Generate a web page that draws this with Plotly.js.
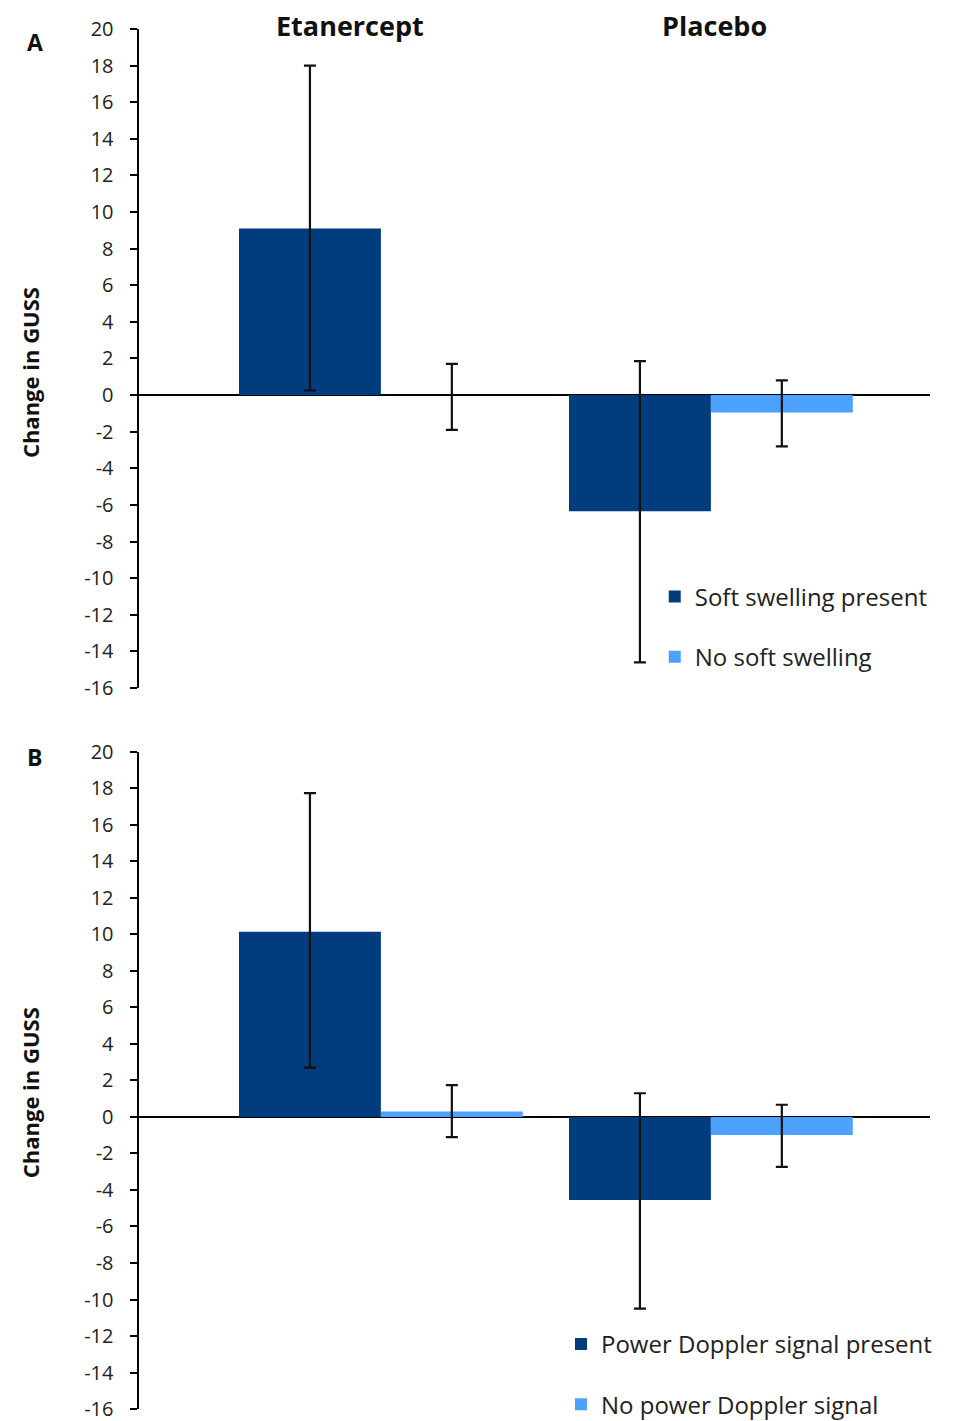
<!DOCTYPE html>
<html>
<head>
<meta charset="utf-8">
<script src="https://cdn.plot.ly/plotly-3.0.1.min.js"></script>
<style>html,body{margin:0;padding:0;background:#fff;}#chart{width:956px;height:1421px;}</style>
</head>
<body>
<div id="chart"></div>
<script>
// Categories (x positions 0 and 1)
const categories = ["Etanercept", "Placebo"];
const catPos = [0, 1];

// Panel A: soft swelling
const aPresent = [9.1, -6.35];
const aPresentErrPlus = [8.9, 8.2];
const aPresentErrMinus = [8.85, 8.25];
const aAbsent = [0.0, -0.95];
const aAbsentErrPlus = [1.7, 1.75];
const aAbsentErrMinus = [1.9, 1.85];

// Panel B: power Doppler
const bPresent = [10.15, -4.55];
const bPresentErrPlus = [7.6, 5.85];
const bPresentErrMinus = [7.45, 5.95];
const bAbsent = [0.3, -0.98];
const bAbsentErrPlus = [1.45, 1.65];
const bAbsentErrMinus = [1.4, 1.75];

const seriesNames = {
  aPresent: "Soft swelling present",
  aAbsent: "No soft swelling",
  bPresent: "Power Doppler signal present",
  bAbsent: "No power Doppler signal"
};

const yTicks = [-16,-14,-12,-10,-8,-6,-4,-2,0,2,4,6,8,10,12,14,16,18,20];
const yTickText = yTicks.map(String);

const dark = "#013c7e";
const light = "#4ba1fc";
const FONT = "Open Sans, Liberation Sans, sans-serif";

function err(plus, minus) {
  return {type: "data", symmetric: false, array: plus, arrayminus: minus,
          color: "#111", thickness: 2.2, width: 6};
}

const traces = [
  {type: "bar", x: catPos, y: aPresent, name: seriesNames.aPresent, marker: {color: dark},
   error_y: err(aPresentErrPlus, aPresentErrMinus), xaxis: "x", yaxis: "y",
   legend: "legend", legendgroup: "a1"},
  {type: "bar", x: catPos, y: aAbsent, name: seriesNames.aAbsent, marker: {color: light},
   error_y: err(aAbsentErrPlus, aAbsentErrMinus), xaxis: "x", yaxis: "y",
   legend: "legend", legendgroup: "a2"},
  {type: "bar", x: catPos, y: bPresent, name: seriesNames.bPresent, marker: {color: dark},
   error_y: err(bPresentErrPlus, bPresentErrMinus), xaxis: "x2", yaxis: "y2",
   legend: "legend2", legendgroup: "b1"},
  {type: "bar", x: catPos, y: bAbsent, name: seriesNames.bAbsent, marker: {color: light},
   error_y: err(bAbsentErrPlus, bAbsentErrMinus), xaxis: "x2", yaxis: "y2",
   legend: "legend2", legendgroup: "b2"}
];

const xRange = [-0.733, 1.664];
function yAxis(domain, anchor) {
  return {
    domain: domain, anchor: anchor, range: [-16, 20], tickvals: yTicks, ticktext: yTickText,
    showgrid: false, zeroline: true, zerolinecolor: "#000", zerolinewidth: 2.5,
    showline: true, linecolor: "#000", linewidth: 2.5,
    ticks: "outside", ticklen: 7, tickwidth: 2, tickcolor: "#000",
    ticklabelstandoff: 12, ticklabeloverflow: "allow",
    tickfont: {family: FONT, size: 20, color: "#222"}
  };
}
function xAxis(anchor) {
  return {range: xRange, anchor: anchor, visible: false, showgrid: false, zeroline: false};
}

const legendBase = {
  bgcolor: "rgba(0,0,0,0)", font: {family: FONT, size: 24, color: "#222"},
  traceorder: "grouped", tracegroupgap: 26, itemwidth: 30,
  xanchor: "left", yanchor: "middle"
};

const layout = {
  width: 956, height: 1421,
  margin: {l: 139, r: 26, t: 29, b: 12, autoexpand: false},
  paper_bgcolor: "#fff", plot_bgcolor: "#fff",
  barmode: "group", bargap: 0.14, bargroupgap: 0.0,
  showlegend: true,
  xaxis: xAxis("y"),
  yaxis: yAxis([0.5225, 1], "x"),
  xaxis2: xAxis("y2"),
  yaxis2: yAxis([0, 0.4761], "x2"),
  legend: Object.assign({}, legendBase, {x: 0.652, y: 0.5667}),
  legend2: Object.assign({}, legendBase, {x: 0.5335, y: 0.0251}),
  annotations: [
    {text: "<b>" + categories[0] + "</b>", xref: "x", yref: "paper", x: -0.094, y: 1.0, yanchor: "middle",
     showarrow: false, font: {family: FONT, size: 27, color: "#111"}, yshift: 4},
    {text: "<b>" + categories[1] + "</b>", xref: "x", yref: "paper", x: 1.012, y: 1.0, yanchor: "middle",
     showarrow: false, font: {family: FONT, size: 27, color: "#111"}, yshift: 4},
    {text: "<b>A</b>", xref: "paper", yref: "paper", x: -0.1315, y: 0.9906, xanchor: "center", yanchor: "middle",
     showarrow: false, font: {family: FONT, size: 23, color: "#111"}},
    {text: "<b>B</b>", xref: "paper", yref: "paper", x: -0.1315, y: 0.4725, xanchor: "center", yanchor: "middle",
     showarrow: false, font: {family: FONT, size: 23, color: "#111"}},
    {text: "<b>Change in GUSS</b>", xref: "paper", yref: "y", x: 0, y: 1.2, xshift: -109, xanchor: "center",
     yanchor: "middle", textangle: -90, showarrow: false, font: {family: FONT, size: 22, color: "#111"}},
    {text: "<b>Change in GUSS</b>", xref: "paper", yref: "y2", x: 0, y: 1.3, xshift: -109, xanchor: "center",
     yanchor: "middle", textangle: -90, showarrow: false, font: {family: FONT, size: 22, color: "#111"}}
  ]
};

Plotly.newPlot("chart", traces, layout, {staticPlot: true, displayModeBar: false});
</script>
</body>
</html>
